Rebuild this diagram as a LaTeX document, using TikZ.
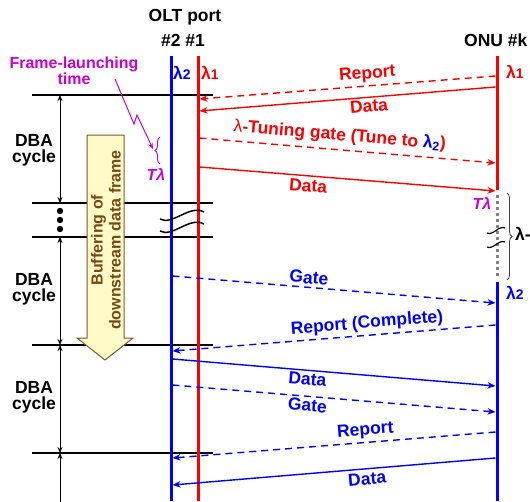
\documentclass[tikz,border=0pt]{standalone}
\usepackage{fontspec}
\setmainfont{Liberation Sans}
\usetikzlibrary{arrows.meta,decorations.pathreplacing}
\definecolor{myred}{RGB}{255,0,0}
\definecolor{myblue}{RGB}{0,0,255}
\definecolor{mymag}{RGB}{204,0,204}
\definecolor{brownline}{RGB}{128,88,40}
\definecolor{browntext}{RGB}{120,72,20}
\definecolor{creamfill}{RGB}{255,250,200}
\begin{document}
\begin{tikzpicture}[x=1pt,y=-1pt,
  lbl/.style={font=\fontsize{17.5}{19}\selectfont\bfseries, inner sep=1pt},
  mlbl/.style={font=\fontsize{16}{17}\selectfont\bfseries, inner sep=1pt},
  msg/.style={line width=1.4pt,-{Stealth[length=8pt,width=6.5pt]}},
  dsh/.style={dash pattern=on 7pt off 5pt},
  lane/.style={line width=3pt},
  hline/.style={line width=1.2pt,black},
  dba/.style={line width=1pt,black,{Stealth[length=6pt,width=5pt]}-{Stealth[length=6pt,width=5pt]}},
  wave/.style={line width=1.5pt,black},
]
\useasboundingbox (0,0) rectangle (530,501);

% horizontal cycle lines
\foreach \y/\n in {95/h1,203/h2,237/h3,345/h4,453/h5}{
  \coordinate (\n l) at (32,\y); \coordinate (\n r) at (213,\y);
  \draw[hline] (\n l) -- (\n r);
}

% DBA arrows
\coordinate (d1t) at (60,95); \coordinate (d1b) at (60,203);
\coordinate (d2t) at (60,237); \coordinate (d2b) at (60,345);
\coordinate (d3t) at (60,345); \coordinate (d3b) at (60,453);
\coordinate (d4t) at (60,453); \coordinate (d4b) at (60,505);
\draw[dba] (d1t) -- (d1b);
\draw[dba] (d2t) -- (d2b);
\draw[dba] (d3t) -- (d3b);
\draw[line width=1pt,{Stealth[length=6pt,width=5pt]}-] (d4t) -- (d4b);
\foreach \y/\n in {211/dt1,220/dt2,229/dt3}{\fill (60,\y) circle (3.2pt) coordinate (\n);}

\node[lbl, align=center, font=\fontsize{17.5}{16}\selectfont\bfseries] (dba1) at (34,150) {DBA\\cycle};
\node[lbl, align=center, font=\fontsize{17.5}{16}\selectfont\bfseries] (dba2) at (34,289) {DBA\\cycle};
\node[lbl, align=center, font=\fontsize{17.5}{16}\selectfont\bfseries] (dba3) at (34,397) {DBA\\cycle};

% big buffering arrow
\draw[brownline, fill=creamfill, line width=1pt] (87,135) -- (124,135) -- (124,338) -- (133,338) -- (105,360) -- (77,338) -- (87,338) -- cycle;
\node[rotate=90, text=browntext, align=center, font=\fontsize{16}{18}\selectfont\bfseries] (buf) at (106,240) {Buffering of\\downstream data frame};

% OLT lanes
\coordinate (b2top) at (171,56); \coordinate (b2bot) at (171,501);
\coordinate (r1top) at (198,56); \coordinate (r1bot) at (198,501);
\draw[lane, myblue] (b2top) -- (b2bot);
\draw[lane, myred] (r1top) -- (r1bot);

% wavy breaks at OLT
\coordinate (w1a) at (160,219); \coordinate (w1b) at (204,212);
\coordinate (w2a) at (160,231); \coordinate (w2b) at (204,224);
\draw[wave] (w1a) .. controls (172,226) and (190,204) .. (w1b);
\draw[wave] (w2a) .. controls (172,238) and (190,216) .. (w2b);

% ONU lane
\coordinate (oTop) at (497,56); \coordinate (oRedEnd) at (497,190);
\coordinate (oDotS) at (497,195); \coordinate (oDotE) at (497,279);
\coordinate (oBlueS) at (497,282); \coordinate (oBot) at (497,501);
\draw[lane, myred] (oTop) -- (oRedEnd);
\draw[line width=3pt, gray, dash pattern=on 3pt off 3pt] (oDotS) -- (oDotE);
\draw[lane, myblue] (oBlueS) -- (oBot);
\coordinate (ow1a) at (487,233); \coordinate (ow1b) at (505,228);
\coordinate (ow2a) at (487,247); \coordinate (ow2b) at (505,242);
\draw[line width=1.2pt] (ow1a) .. controls (493,236) and (499,225) .. (ow1b);
\draw[line width=1.2pt] (ow2a) .. controls (493,250) and (499,239) .. (ow2b);
\coordinate (brt) at (507,193); \coordinate (brb) at (507,280);
\draw[line width=0.8pt, black!75, decorate, decoration={brace, amplitude=5pt}] (brt) -- (brb);
\node[lbl, anchor=west] (lt) at (514,234) {λ-};

% titles
\node[lbl] (olt) at (185,17) {OLT port};
\node[lbl] (ports) at (183,40) {\#2 \#1};
\node[lbl, anchor=west] (onu) at (463,40) {ONU \#k};

% lambda labels
\node[lbl, text=myblue] (l2) at (182,73) {λ{\fontsize{14}{14}\selectfont 2}};
\node[lbl, text=myred] (l1) at (210,73) {λ{\fontsize{14}{14}\selectfont 1}};
\node[lbl, text=myred] (ol1) at (515,72) {λ{\fontsize{14}{14}\selectfont 1}};
\node[lbl, text=myblue] (ol2) at (515,293) {λ{\fontsize{14}{14}\selectfont 2}};

% frame launching time
\node[mlbl, text=mymag, align=center, font=\fontsize{16}{16}\selectfont\bfseries] (flt) at (74,71) {Frame-launching\\time};
\coordinate (p0) at (115,79); \coordinate (p1) at (134,124); \coordinate (p2) at (137,115); \coordinate (p3) at (153,149);
\draw[mymag, line width=1pt, -{Stealth[length=6pt,width=4.5pt]}] (p0) -- (p1) -- (p2) -- (p3);
\coordinate (lbb) at (160,164); \coordinate (lbt) at (160,137);
\draw[mymag, line width=1pt, decorate, decoration={brace, amplitude=5pt}] (lbb) -- (lbt);
\node[lbl, text=mymag, font=\fontsize{16}{16}\selectfont\bfseries\itshape] (tl1) at (156,174) {Tλ};
\node[lbl, text=mymag, font=\fontsize{16}{16}\selectfont\bfseries\itshape] (tl2) at (482,203) {Tλ};

% red messages
\coordinate (m1s) at (495.5,76); \coordinate (m1e) at (199.5,99);
\coordinate (m2s) at (495.5,87); \coordinate (m2e) at (199.5,111);
\coordinate (m3s) at (199.5,138); \coordinate (m3e) at (495.5,163);
\coordinate (m4s) at (199.5,167); \coordinate (m4e) at (495.5,191);
\draw[msg, myred, dsh] (m1s) -- node[lbl, pos=0.43, sloped, above=2pt] {Report} (m1e);
\draw[msg, myred] (m2s) -- node[lbl, pos=0.43, sloped, below=1pt] {Data} (m2e);
\draw[msg, myred, dsh] (m3s) -- node[lbl, pos=0.47, sloped, above=4pt] {{\mdseries λ}-Tuning gate (Tune to {\color{myblue}λ\textsubscript{2}})} (m3e);
\draw[msg, myred] (m4s) -- node[lbl, pos=0.37, sloped, below=2pt] {Data} (m4e);

% blue messages
\coordinate (n1s) at (172.5,276); \coordinate (n1e) at (495.5,303);
\coordinate (n2s) at (495.5,325); \coordinate (n2e) at (172.5,351);
\coordinate (n3s) at (172.5,359); \coordinate (n3e) at (495.5,386);
\coordinate (n4s) at (172.5,385); \coordinate (n4e) at (495.5,412);
\coordinate (n5s) at (495.5,432); \coordinate (n5e) at (172.5,458);
\coordinate (n6s) at (495.5,458); \coordinate (n6e) at (172.5,485);
\draw[msg, myblue, dsh] (n1s) -- node[lbl, pos=0.42, sloped, above=2pt] {Gate} (n1e);
\draw[msg, myblue, dsh] (n2s) -- node[lbl, pos=0.395, sloped, above=2pt] {Report (Complete)} (n2e);
\draw[msg, myblue] (n3s) -- node[lbl, pos=0.42, sloped, below=1pt] {Data} (n3e);
\draw[msg, myblue, dsh] (n4s) -- node[lbl, pos=0.42, sloped, below=1pt] {Gate} (n4e);
\draw[msg, myblue, dsh] (n5s) -- node[lbl, pos=0.40, sloped, above=2pt] {Report} (n5e);
\draw[msg, myblue] (n6s) -- node[lbl, pos=0.40, sloped, below=2pt] {Data} (n6e);
\end{tikzpicture}
\end{document}
